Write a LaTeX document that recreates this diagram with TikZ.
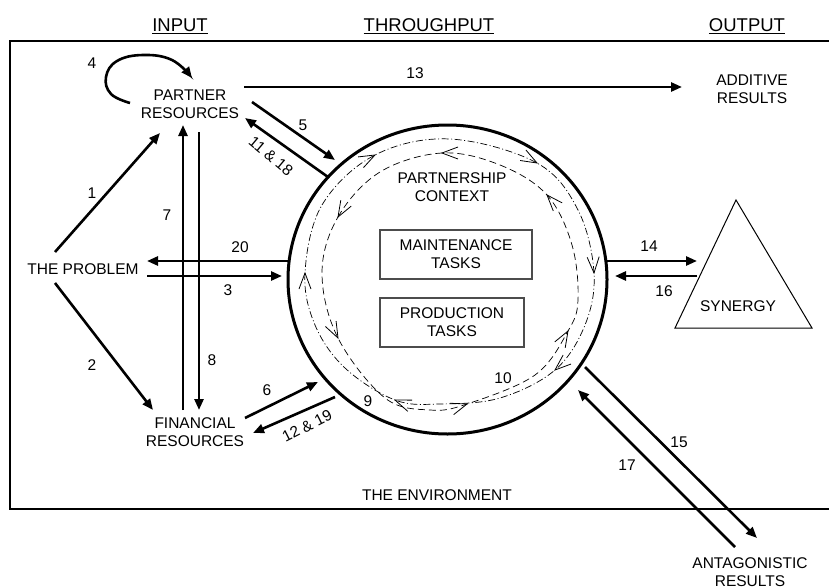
\documentclass[tikz,border=0pt]{standalone}
\usepackage{fontspec}
\setmainfont{Liberation Sans}
\usetikzlibrary{arrows.meta}
\newcommand\hdrline[1]{\setbox0\hbox{#1}\rlap{\rule[-1.8pt]{\wd0}{1.2pt}}\box0}
\begin{document}
\begin{tikzpicture}[x=1pt,y=1pt,
  lbl/.style={font=\fontsize{15.5}{18}\selectfont, align=center, inner sep=0pt},
  hdr/.style={font=\fontsize{18.5}{22}\selectfont, inner sep=0pt, anchor=base},
  arr/.style={line width=2.6pt, -{Triangle[length=11pt,width=9pt]}},
  taskbox/.style={draw=black!70, line width=1.2pt},
  cwloop/.style={line width=0.7pt, dash pattern=on 7pt off 2.5pt on 1pt off 2.5pt},
  ccwloop/.style={line width=0.7pt, dash pattern=on 7pt off 4pt},
  vhead/.pic={\draw[line width=0.8pt] (-16,6) -- (0,0) -- (-16,-6);}
]
\useasboundingbox (0,0) rectangle (829,-586);

% environment frame (open to the right)
\draw[line width=1.3pt] (840,-41) -- (10,-41) -- (10,-509) -- (840,-509);

% column headings
\node[hdr] (hin)  at (180,-32) {\hdrline{INPUT}};
\node[hdr] (hthr) at (429,-32) {\hdrline{THROUGHPUT}};
\node[hdr] (hout) at (747,-32) {\hdrline{OUTPUT}};

% actors and outcomes
\node[lbl] (partner)   at (190,-104) {PARTNER\\RESOURCES};
\node[lbl] (problem)   at (83,-269)  {THE PROBLEM};
\node[lbl] (financial) at (195,-432) {FINANCIAL\\RESOURCES};
\node[lbl] (additive)  at (752,-89)  {ADDITIVE\\RESULTS};
\node[lbl] (antag)     at (750,-572) {ANTAGONISTIC\\RESULTS};
\node[lbl] (env)       at (437,-495) {THE ENVIRONMENT};

% partnership context ring
\coordinate (ring) at (447.5,-279.5);
\draw[line width=3pt] (ring) ellipse [x radius=159.5, y radius=154.5];
\node[lbl] (context) at (452,-187) {PARTNERSHIP\\CONTEXT};
\node[taskbox, lbl, minimum width=152, minimum height=49] (maint) at (456,-254.5) {MAINTENANCE\\TASKS};
\node[taskbox, lbl, minimum width=144, minimum height=49] (prod)  at (452,-322.5) {PRODUCTION\\TASKS};

% two counter-rotating process loops
\draw[cwloop] plot[smooth cycle, tension=0.6] coordinates {
  (305,-273) (322,-205) (375,-155) (450,-139) (537,-163) (578,-210)
  (594,-273) (585,-325) (555,-370) (500,-398) (440,-404) (395,-400)
  (345,-368) (315,-325)};
\draw[ccwloop] plot[smooth cycle, tension=0.6] coordinates {
  (322,-273) (338,-217) (380,-172) (442,-153) (500,-165) (547,-195)
  (572,-245) (578,-300) (568,-331) (535,-375) (467,-404) (430,-410)
  (385,-398) (338,-338)};
\pic[rotate=90]   at (305,-273) {vhead};
\pic[rotate=27]   at (375,-155) {vhead};
\pic[rotate=-29]  at (537,-163) {vhead};
\pic[rotate=-87]  at (594,-273) {vhead};
\pic[rotate=-139] at (555,-370) {vhead};
\pic[rotate=159]  at (395,-400) {vhead};
\pic[rotate=180]  at (442,-153) {vhead};
\pic[rotate=132]  at (547,-195) {vhead};
\pic[rotate=60]   at (568,-331) {vhead};
\pic[rotate=18]   at (467,-404) {vhead};
\pic[rotate=-63]  at (338,-338) {vhead};
\pic[rotate=-120] at (338,-217) {vhead};
\node[lbl] (n9)  at (368,-401) {9};
\node[lbl] (n10) at (503,-378) {10};

% synergy
\draw[line width=1pt] (736,-200) -- (812,-328) -- (675,-328) -- cycle;
\node[lbl] (synergy) at (738,-306) {SYNERGY};

% connector end points
\coordinate (pb-ne) at (55,-252);   \coordinate (pr-sw) at (160,-133);
\coordinate (pb-se) at (55,-283);   \coordinate (fi-nw) at (153,-410);
\coordinate (lp-s)  at (130,-103);  \coordinate (lp-e)  at (192,-78);
\coordinate (pb-e3) at (147,-276);  \coordinate (rg-w3) at (282,-276);
\coordinate (rg-w20) at (290,-261); \coordinate (pb-e20) at (147,-261);
\coordinate (pr-e5) at (252,-102);  \coordinate (rg-nw5) at (335,-160);
\coordinate (rg-nw11) at (328,-177); \coordinate (pr-e11) at (245,-118);
\coordinate (fi-e6) at (245,-418);  \coordinate (rg-sw6) at (318,-382);
\coordinate (rg-sw12) at (335,-397); \coordinate (fi-e12) at (253,-433);
\coordinate (fi-n7) at (183,-410);  \coordinate (pr-s7) at (183,-125);
\coordinate (pr-s8) at (199,-132);  \coordinate (fi-n8) at (199,-410);
\coordinate (pr-e13) at (244,-87);  \coordinate (ad-w13) at (682,-87);
\coordinate (rg-e14) at (607,-261); \coordinate (sy-w14) at (697,-261);
\coordinate (sy-w16) at (697,-276); \coordinate (rg-e16) at (615,-276);
\coordinate (rg-se15) at (585,-367); \coordinate (an-n15) at (757,-538);
\coordinate (an-n17) at (735,-547); \coordinate (rg-se17) at (578,-390);

% flows
\draw[arr] (pb-ne) -- (pr-sw);
\node[lbl] at (92,-193) {1};
\draw[arr] (pb-se) -- (fi-nw);
\node[lbl] at (92,-365) {2};
\draw[arr] (pb-e3) -- (rg-w3);
\node[lbl] at (228,-290) {3};
\draw[arr] plot[smooth, tension=0.7] coordinates {(lp-s) (111,-94) (106,-77) (117,-61) (143,-55) (172,-60) (lp-e)};
\node[lbl] at (92,-63) {4};
\draw[arr] (pr-e5) -- (rg-nw5);
\node[lbl] at (303,-125) {5};
\draw[arr] (fi-e6) -- (rg-sw6);
\node[lbl] at (267,-390) {6};
\draw[arr] (fi-n7) -- (pr-s7);
\node[lbl] at (167,-215) {7};
\draw[arr] (pr-s8) -- (fi-n8);
\node[lbl] at (212,-360) {8};
\draw[arr] (rg-nw11) -- (pr-e11);
\node[lbl, rotate=-40] at (271,-156) {11 \& 18};
\draw[arr] (rg-sw12) -- (fi-e12);
\node[lbl, rotate=27] at (307,-426) {12 \& 19};
\draw[arr] (pr-e13) -- (ad-w13);
\node[lbl] at (415,-73) {13};
\draw[arr] (rg-e14) -- (sy-w14);
\node[lbl] at (649,-246) {14};
\draw[arr] (rg-se15) -- (an-n15);
\node[lbl] at (679,-442) {15};
\draw[arr] (sy-w16) -- (rg-e16);
\node[lbl] at (664,-291) {16};
\draw[arr] (an-n17) -- (rg-se17);
\node[lbl] at (627,-465) {17};
\draw[arr] (rg-w20) -- (pb-e20);
\node[lbl] at (240,-247) {20};
\end{tikzpicture}
\end{document}
